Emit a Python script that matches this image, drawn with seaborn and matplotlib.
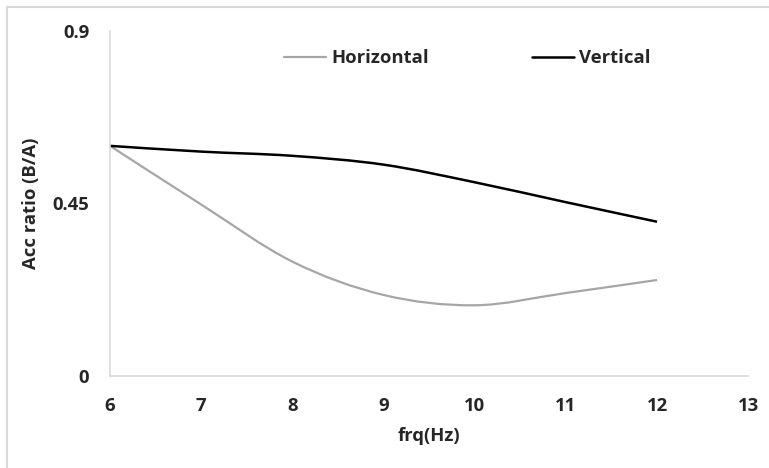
import numpy as np
import pandas as pd
import seaborn as sns
import matplotlib.pyplot as plt
from matplotlib.path import Path
from matplotlib.patches import PathPatch, Rectangle
from matplotlib.lines import Line2D

# valeurs
freq = [6, 7, 8, 9, 10, 11, 12]
horizontal = [0.60, 0.447, 0.298, 0.211, 0.184, 0.216, 0.25]
vertical = [0.60, 0.585, 0.574, 0.551, 0.505, 0.453, 0.402]
y_ticks = [0, 0.45, 0.9]
y_tick_labels = ["0", "0.45", "0.9"]
x_ticks = [6, 7, 8, 9, 10, 11, 12, 13]

df = pd.DataFrame({"frq": freq, "Horizontal": horizontal, "Vertical": vertical})

sns.set_theme(style="white")
plt.rcParams['font.family'] = ['Open Sans', 'DejaVu Sans']
plt.rcParams['font.weight'] = 'bold'
fs = 13.3


# courbe lissée façon Excel (Bezier par Catmull-Rom)
def smooth_path(x, y):
    pts = np.column_stack([x, y]).astype(float)
    ext = np.vstack([pts[0], pts, pts[-1]])
    verts = [pts[0]]
    codes = [Path.MOVETO]
    for i in range(1, len(ext) - 2):
        p0, p1, p2, p3 = ext[i - 1], ext[i], ext[i + 1], ext[i + 2]
        verts += [p1 + (p2 - p0) / 6, p2 - (p3 - p1) / 6, p2]
        codes += [Path.CURVE4] * 3
    return Path(verts, codes)


fig = plt.figure(figsize=(7.69, 4.68), dpi=100)
ax = fig.add_axes([0.143, 0.197, 0.830, 0.737])

styles = {"Horizontal": ("#a6a6a6", 1.6), "Vertical": ("black", 1.8)}
handles = []
for name, (col, lw) in styles.items():
    ax.add_patch(PathPatch(smooth_path(df["frq"], df[name]), facecolor="none",
                           edgecolor=col, lw=lw, capstyle="butt"))
    handles.append(Line2D([], [], color=col, lw=lw))

ax.set_xlim(6, 13)
ax.set_ylim(0, 0.9)
ax.set_xticks(x_ticks)
ax.set_yticks(y_ticks)
ax.set_yticklabels(y_tick_labels)
ax.tick_params(length=0, labelsize=fs, pad=15)
for lab in ax.get_xticklabels() + ax.get_yticklabels():
    lab.set_fontweight("bold")

sns.despine(ax=ax)
for s in ["left", "bottom"]:
    ax.spines[s].set_color("#d9d9d9")
    ax.spines[s].set_linewidth(1.2)

ax.set_xlabel("frq(Hz)", fontsize=fs, fontweight="bold", labelpad=9)
ax.set_ylabel("Acc ratio (B/A)", fontsize=fs, fontweight="bold", labelpad=9)

fig.legend(handles, list(styles.keys()), loc="center", bbox_to_anchor=(0.608, 0.876),
           ncol=2, frameon=False, handlelength=2.25, handletextpad=0.3,
           columnspacing=5.6, prop={"weight": "bold", "size": fs})

# cadre gris autour du graphique
fig.add_artist(Rectangle((7 / 769, -0.1), 1.2, 1.1 - 7 / 468,
                         transform=fig.transFigure, fill=False,
                         edgecolor="#d9d9d9", lw=1.5))

fig.savefig("out.png", dpi=100)
